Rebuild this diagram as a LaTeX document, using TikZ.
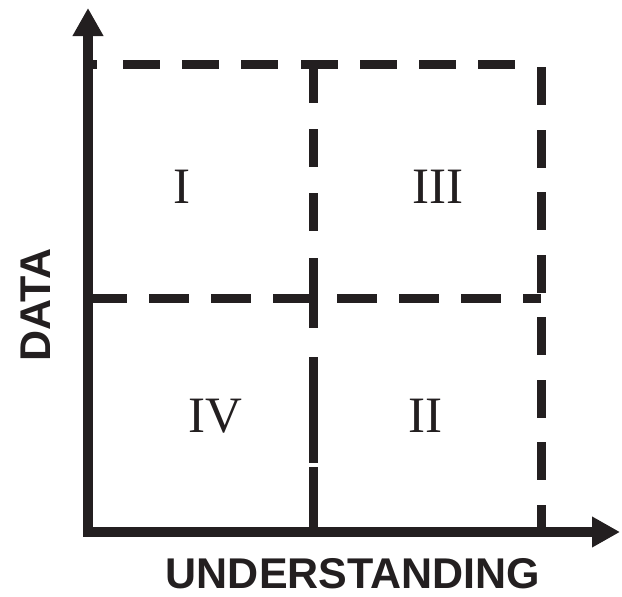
\documentclass[tikz,border=0pt]{standalone}
\usepackage{fontspec}
\setmainfont{Liberation Serif}
\setsansfont{Liberation Sans}
\usetikzlibrary{arrows.meta}
\definecolor{ink}{RGB}{35,31,32}
\begin{document}
\begin{tikzpicture}[x=1pt,y=-1pt,
  axisline/.style={draw=ink,line width=10pt,{Triangle[length=28pt,width=29pt,fill=ink]}-{Triangle[length=28pt,width=29pt,fill=ink]}},
  dashseg/.style={draw=ink,line width=9pt},
  roman/.style={text=ink,font=\fontsize{51}{51}\selectfont, anchor=base, inner sep=0pt},
  axlabel/.style={text=ink,font=\sffamily\bfseries\fontsize{43}{43}\selectfont, anchor=base, inner sep=0pt}]
\useasboundingbox (0,0) rectangle (622,597);
% axes
\coordinate (top) at (88,8);
\coordinate (origin) at (88,532);
\coordinate (right) at (620,532);
\draw[axisline] (top) -- (origin) -- (right);
% top dashed line
\foreach \a/\b in {88/97,123/160,182/219,241/278,301/338,360/397,419/456,478/515}
  \draw[dashseg] (\a,64) -- (\b,64);
% right dashed line
\foreach \a/\b in {67/105,130/168,192/230,255/293,317/355,380/418,442/480,505/527}
  \draw[dashseg] (541.5,\a) -- (541.5,\b);
% middle horizontal dashed line
\foreach \a/\b in {88/127,149/189,211/251,273/318,337/377,399/439,461/501,523/541}
  \draw[dashseg] (\a,298) -- (\b,298);
% middle vertical dashed line
\foreach \a/\b in {65/103,129/167,193/231,258/328,357/463,467/527}
  \draw[dashseg] (313.5,\a) -- (313.5,\b);
% quadrant labels
\node[roman] (q1) at (182,203) {I};
\node[roman] (q3) at (438,203) {III};
\node[roman] (q4) at (215,432) {IV};
\node[roman] (q2) at (425,432) {II};
% axis labels
\node[axlabel] (xl) at (353,588) {UNDERSTANDING};
\node[axlabel, rotate=90] (yl) at (50,305) {DATA};
\end{tikzpicture}
\end{document}
